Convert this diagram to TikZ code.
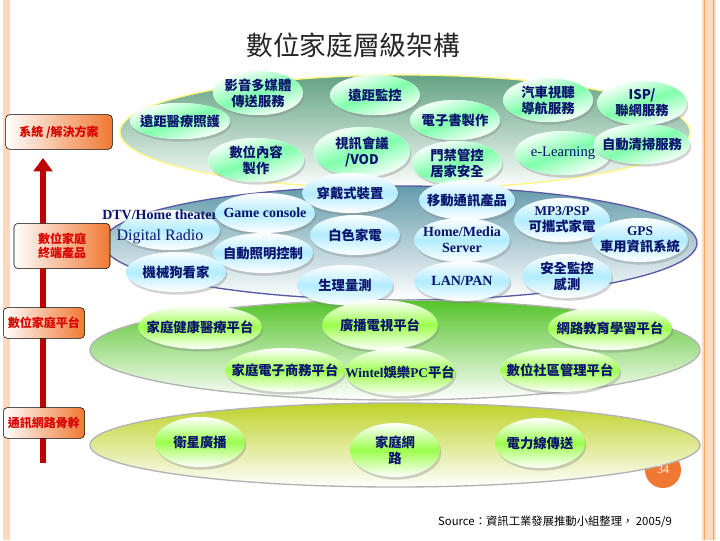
\documentclass[tikz,border=0pt]{standalone}
\usepackage{fontspec}
\setmainfont{Liberation Serif}
\newfontfamily\cjk{Noto Sans CJK TC}
\newfontfamily\cjkb{Noto Sans CJK TC Bold}
\usetikzlibrary{arrows.meta,shadows}
\definecolor{navy}{RGB}{10,20,110}
\definecolor{plateg}{RGB}{60,140,100}
\definecolor{plateb}{RGB}{60,130,150}
\definecolor{pg}{RGB}{120,170,60}
\definecolor{py}{RGB}{190,210,40}
\definecolor{or}{RGB}{240,120,50}
\tikzset{
 x=0.75pt,y=-0.75pt,
 lbl/.style={font=\fontsize{10}{12}\selectfont\cjkb\bfseries,text=navy,align=center,inner sep=0},
 lat/.style={font=\fontsize{10.5}{12}\selectfont\bfseries,text=navy,align=center,inner sep=0},
 gb/.style={fill=white,top color=white,bottom color=white,middle color=cyan!35!green!50,shading angle=20,drop shadow={opacity=0.35,shadow xshift=1pt,shadow yshift=-2pt}},
 bb/.style={top color=white,bottom color=white,middle color=blue!25!cyan!30,drop shadow={opacity=0.35,shadow xshift=1pt,shadow yshift=-2pt}},
 yb/.style={top color=white,bottom color=white,middle color=green!55!yellow!70,drop shadow={opacity=0.35,shadow xshift=1pt,shadow yshift=-2pt}},
 side/.style={draw=black,rounded corners=3pt,left color=white,right color=or,font=\fontsize{9}{11}\selectfont\cjkb\bfseries,text=red!85!black,align=center,inner sep=2pt}
}
\begin{document}
\begin{tikzpicture}
\useasboundingbox (0,0) rectangle (720,540);
\fill[white] (0,0) rectangle (720,540);
\fill[red!20!orange!25] (3,0) rectangle (10,540);
\fill[red!20!orange!25] (702,0) rectangle (716,540);
\draw[orange!70,line width=0.6pt] (704,0)--(704,540) (713,0)--(713,540);
\node[font=\fontsize{20}{24}\selectfont\cjk,text=black!85] (title) at (353,45) {數位家庭層級架構};
% plates
\shade[top color=plateg!80,bottom color=white,shading angle=0,draw=yellow!50,line width=1pt] (405,132) ellipse [x radius=285,y radius=57];
\shade[top color=plateb!80,bottom color=white,draw=gray!70!blue,line width=1pt] (400,243) ellipse [x radius=297,y radius=57];
\shade[top color=pg!70!green,bottom color=white,draw=gray!60,line width=1pt] (395,350) ellipse [x radius=305,y radius=50];
\fill[or] (663,470) circle (18);
\shade[top color=py,bottom color=white,draw=gray!60,line width=1pt] (395,445) ellipse [x radius=305,y radius=42];
% top
\def\E#1#2#3#4#5#6#7{\path[#7] (#2,#3) ellipse [x radius=#4,y radius=#5]; \node[lbl] (#1) at (#2,#3) {#6};}
\E{a1}{258}{93}{45}{22}{影音多媒體\\傳送服務}{gb}
\E{a2}{375}{95}{45}{20}{遠距監控}{gb}
\E{a3}{180}{121}{50}{18}{遠距醫療照護}{gb}
\E{a4}{455}{120}{45}{20}{電子書製作}{gb}
\E{a5}{548}{100}{45}{22}{汽車視聽\\導航服務}{gb}
\E{a6}{642}{103}{45}{22}{ISP/\\聯網服務}{gb}
\E{a7}{256}{160}{48}{22}{數位內容\\製作}{gb}
\E{a8}{362}{152}{48}{25}{視訊會議\\/VOD}{gb}
\E{a9}{457}{163}{45}{22}{門禁管控\\居家安全}{gb}
\path[gb] (563,153) ellipse [x radius=48,y radius=22]; \node[lat,font=\fontsize{11}{12}\selectfont] (a10) at (563,153) {e-Learning};
\E{a11}{642}{144}{48}{20}{自動清掃服務}{gb}
% second
\E{b1}{350}{193}{48}{20}{穿戴式裝置}{bb}
\E{b2}{467}{200}{48}{20}{移動通訊產品}{bb}
\path[bb] (170,230) ellipse [x radius=50,y radius=20];
\node[lat] (b3) at (160,215) {DTV/Home theater};
\node[lat,font=\fontsize{12}{12}\selectfont\mdseries] (b4) at (160,237) {Digital Radio};
\path[bb] (265,213) ellipse [x radius=50,y radius=20]; \node[lat] (b5) at (265,213) {Game console};
\E{b6}{355}{235}{45}{20}{白色家電}{bb}
\E{b7}{263}{253}{50}{20}{自動照明控制}{bb}
\path[bb] (462,240) ellipse [x radius=48,y radius=22]; \node[lat] (b8) at (462,240) {Home/Media\\Server};
\path[bb] (562,220) ellipse [x radius=48,y radius=22]; \node[lbl] (b9) at (562,220) {{\rmfamily MP3/PSP}\\可攜式家電};
\path[bb] (640,240) ellipse [x radius=48,y radius=22]; \node[lbl] (b10) at (640,240) {{\rmfamily GPS}\\車用資訊系統};
\E{b11}{176}{272}{50}{20}{機械狗看家}{bb}
\E{b12}{345}{285}{48}{20}{生理量測}{bb}
\path[bb] (462,281) ellipse [x radius=48,y radius=20]; \node[lat] (b13) at (462,281) {LAN/PAN};
\E{b14}{567}{276}{45}{22}{安全監控\\感測}{bb}
% third
\E{c1}{200}{327}{62}{22}{家庭健康醫療平台}{yb}
\E{c2}{380}{325}{58}{25}{廣播電視平台}{yb}
\E{c3}{610}{328}{62}{22}{網路教育學習平台}{yb}
\E{c4}{285}{370}{60}{22}{家庭電子商務平台}{yb}
\path[yb] (400,372) ellipse [x radius=55,y radius=24]; \node[lbl] (c5) at (400,372) {{\rmfamily Wintel}娛樂{\rmfamily PC}平台};
\E{c6}{560}{370}{60}{22}{數位社區管理平台}{yb}
% bottom
\E{d1}{200}{442}{45}{25}{衛星廣播}{yb}
\E{d2}{395}{450}{45}{27}{家庭網\\路}{yb}
\E{d3}{540}{443}{45}{25}{電力線傳送}{yb}
% left
\coordinate (ltop) at (43,158);
\coordinate (lbot) at (43,463);
\draw[red!75!black,line width=4pt,-{Triangle[length=10pt,width=14pt]}] (lbot) -- (ltop);
\node[side,minimum width=80pt,minimum height=26pt] (s1) at (59,132) {系統 /解決方案};
\node[side,minimum width=72pt,minimum height=34pt] (s2) at (62,246) {數位家庭\\終端產品};
\node[side,minimum width=61pt,minimum height=23pt,anchor=west] (s3) at (3,323) {數位家庭平台};
\node[side,minimum width=61pt,minimum height=23pt,anchor=west] (s4) at (3,423) {通訊網路骨幹};
% page number
\node[text=white,font=\small] (pn) at (663,470) {34};
\node[font=\fontsize{8.5}{10}\selectfont\cjk] (src) at (555,522) {Source：資訊工業發展推動小組整理， 2005/9};
\end{tikzpicture}
\end{document}
